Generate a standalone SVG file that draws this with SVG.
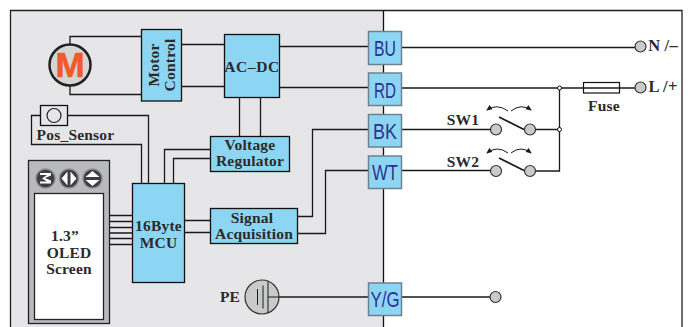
<svg xmlns="http://www.w3.org/2000/svg" width="688" height="327" viewBox="0 0 688 327">
<style>
.w{fill:none;stroke:#1a1a1a;stroke-width:1.3}
.b{fill:#8dd6f3;stroke:#111;stroke-width:1.3}
.p{fill:#8dd6f3;stroke:#6d8290;stroke-width:1.5}
.t{font-family:"Liberation Serif",serif;font-weight:700;font-size:15.5px;fill:#2b2b2b;text-anchor:middle;letter-spacing:.2px}
.c{font-family:"Liberation Sans",sans-serif;font-size:22px;fill:#2e3192;text-anchor:middle}
.g{fill:#c9cbca;stroke:#333;stroke-width:1.2}
.k{fill:#3d3d3f;stroke:#8a8a8a;stroke-width:1.5}
.y{fill:#fff}
</style>
<defs>
<marker id="a" markerWidth="7" markerHeight="6" refX="5" refY="3" orient="auto"><path d="M0 0.5L6 3L0 5.5z" fill="#1a1a1a"/></marker>
</defs>
<rect x="11" y="10.500" width="372" height="320" fill="#e6e6e9"/>
<path d="M10.500 330V10.500H682V330" fill="none" stroke="#231f20" stroke-width="1.300"/>
<path d="M383.500 10.500V330" fill="none" stroke="#111" stroke-width="1.300"/>
<g id="connectors">
<path class="w" d="M70 44V36.500H141M70 86V94.500H141"/>
<path class="w" d="M181 44.500H224M181 86.500H224"/>
<path class="w" d="M279.500 46.500H368M279.500 87.500H368"/>
<path class="w" d="M239.500 97V136.500M260.500 97V136.500"/>
<path class="w" d="M67.500 115.500H148.500V183.500M40.500 115.500H31.500V144.500H141.500V183.500"/>
<path class="w" d="M210.500 149.500H164.500V183.500M210.500 158.500H173.500V183.500"/>
<path class="w" d="M109.500 215.500H132.500M109.500 221.500H132.500M109.500 227.500H132.500M109.500 233H132.500M109.500 238.500H132.500M109.500 244.500H132.500"/>
<path class="w" d="M184 220.500H210.500M184 232.500H210.500"/>
<path class="w" d="M297.500 216.500H312.500V129.500H368M297.500 233.500H325.500V170.500H368"/>
<path class="w" d="M279 297H368"/>
<path class="w" d="M401.500 47.500H635M401.500 88H583M619.500 88H635M401.500 129.500H490.500M401.500 170.500H490.500M401.500 297H490M535.500 129.500H559.500M535.500 171H559.500V88"/>
<path class="w" d="M499 117L524 129.500M499 158L524 170.500" style="stroke-width:1.600"/>
<path class="w" d="M508 111Q497 103 487 110" marker-end="url(#a)" style="stroke-width:1"/>
<path class="w" d="M511 111Q521 103 531 110" marker-end="url(#a)" style="stroke-width:1"/>
<path class="w" d="M508 153Q497 145 487 153" marker-end="url(#a)" style="stroke-width:1"/>
<path class="w" d="M511 153Q521 145 531 153" marker-end="url(#a)" style="stroke-width:1"/>
</g>
<g id="motor"><circle cx="70" cy="65" r="20.500" fill="#d4d6d4" stroke="#222" stroke-width="2.500"/><text x="70" y="77" font-family="Liberation Sans,sans-serif" font-weight="700" font-size="35" fill="#f15a29" stroke="#f15a29" stroke-width=".6" text-anchor="middle">M</text></g>
<g id="motor-control"><rect class="b" x="141.500" y="29.500" width="40" height="71.500"/><text class="t" transform="translate(159 65) rotate(-90)">Motor</text><text class="t" transform="translate(175 65) rotate(-90)">Control</text></g>
<g id="ac-dc"><rect class="b" x="224.500" y="34.500" width="55" height="63"/><text class="t" x="252" y="72" style="letter-spacing:.6px">AC–DC</text></g>
<g id="voltage-regulator"><rect class="b" x="210.500" y="136.500" width="79" height="35"/><text class="t" x="250" y="150">Voltage</text><text class="t" x="250" y="166">Regulator</text></g>
<g id="pos-sensor"><rect x="40.500" y="105.500" width="27" height="20" fill="#e6e6e9" stroke="#111" stroke-width="1.300"/><circle cx="54" cy="115.500" r="7" fill="none" stroke="#222" stroke-width="1.200"/><text class="t" x="75.500" y="140">Pos_Sensor</text></g>
<g id="oled"><rect x="28.500" y="160.500" width="81" height="163" fill="#b9babd" stroke="#222" stroke-width="1.300"/><rect x="34.500" y="193.500" width="69" height="126" fill="#fff" stroke="#222" stroke-width="1.300"/>
<circle class="k" cx="45.500" cy="178.500" r="9.500"/><path class="y" d="M40 173H51V175.500L45 178L51 180.500V183.500H40V181.500H47L42 178.500L47 175H40z"/>
<circle class="k" cx="69" cy="178.500" r="9.500"/><path class="y" d="M67.500 171.500V185.500L61.500 178.500zM70.500 171.500V185.500L76.500 178.500z"/>
<circle class="k" cx="92.500" cy="178.500" r="9.500"/><path class="y" d="M85.500 177L92.500 171L99.500 177zM85.500 180H99.500L92.500 186z"/>
<text class="t" x="65" y="241">1.3”</text><text class="t" x="69" y="258">OLED</text><text class="t" x="69" y="274">Screen</text></g>
<g id="mcu"><rect class="b" x="132.500" y="183.500" width="52" height="99"/><text class="t" x="158.500" y="231">16Byte</text><text class="t" x="158.500" y="248">MCU</text></g>
<g id="signal-acquisition"><rect class="b" x="210.500" y="208.500" width="87" height="35"/><text class="t" x="252" y="223">Signal</text><text class="t" x="254" y="239">Acquisition</text></g>
<g id="pe"><text class="t" x="230" y="302">PE</text><circle class="g" cx="262" cy="297" r="17"/><path class="w" d="M257.500 289V305M263 285.500V308.500M268 281.500V313M268 297H279" style="stroke-width:1"/></g>
<g id="bu"><rect class="p" x="368.500" y="31.500" width="33" height="33"/><text class="c" x="385" y="56" textLength="22" lengthAdjust="spacingAndGlyphs">BU</text></g>
<g id="rd"><rect class="p" x="368.500" y="73" width="33" height="32.500"/><text class="c" x="385" y="98" textLength="22" lengthAdjust="spacingAndGlyphs">RD</text></g>
<g id="bk"><rect class="p" x="368.500" y="114.500" width="33" height="32.500"/><text class="c" x="385" y="139" textLength="24" lengthAdjust="spacingAndGlyphs">BK</text></g>
<g id="wt"><rect class="p" x="368.500" y="156" width="33" height="32.500"/><text class="c" x="385" y="180" textLength="26" lengthAdjust="spacingAndGlyphs">WT</text></g>
<g id="yg"><rect class="p" x="368.500" y="283" width="33" height="32.500"/><text class="c" x="385" y="307" textLength="29" lengthAdjust="spacingAndGlyphs">Y/G</text></g>
<g id="n-terminal"><circle class="g" cx="640.500" cy="46.500" r="5.500"/><text class="t" x="663" y="51" style="font-size:16.500px">N /–</text></g>
<g id="l-terminal"><circle class="g" cx="640.500" cy="87.500" r="5.500"/><text class="t" x="663" y="92" style="font-size:16.500px">L /+</text></g>
<g id="fuse"><rect x="583.500" y="82.500" width="36" height="10.500" fill="#fff" stroke="#111" stroke-width="1.200"/><path class="w" d="M583.500 88H619.500"/><text class="t" x="604" y="111">Fuse</text></g>
<circle cx="559.500" cy="88" r="2" fill="#fff" stroke="#111"/><circle cx="559.500" cy="129.500" r="2" fill="#fff" stroke="#111"/>
<g id="sw1"><text class="t" x="463" y="125">SW1</text><circle class="g" cx="496" cy="129.500" r="5.500"/><circle class="g" cx="530" cy="129.500" r="5.500"/></g>
<g id="sw2"><text class="t" x="463" y="167">SW2</text><circle class="g" cx="496" cy="171" r="5.500"/><circle class="g" cx="530" cy="171" r="5.500"/></g>
<g id="pe-terminal"><circle class="g" cx="495.500" cy="297" r="5.500"/></g>
</svg>
